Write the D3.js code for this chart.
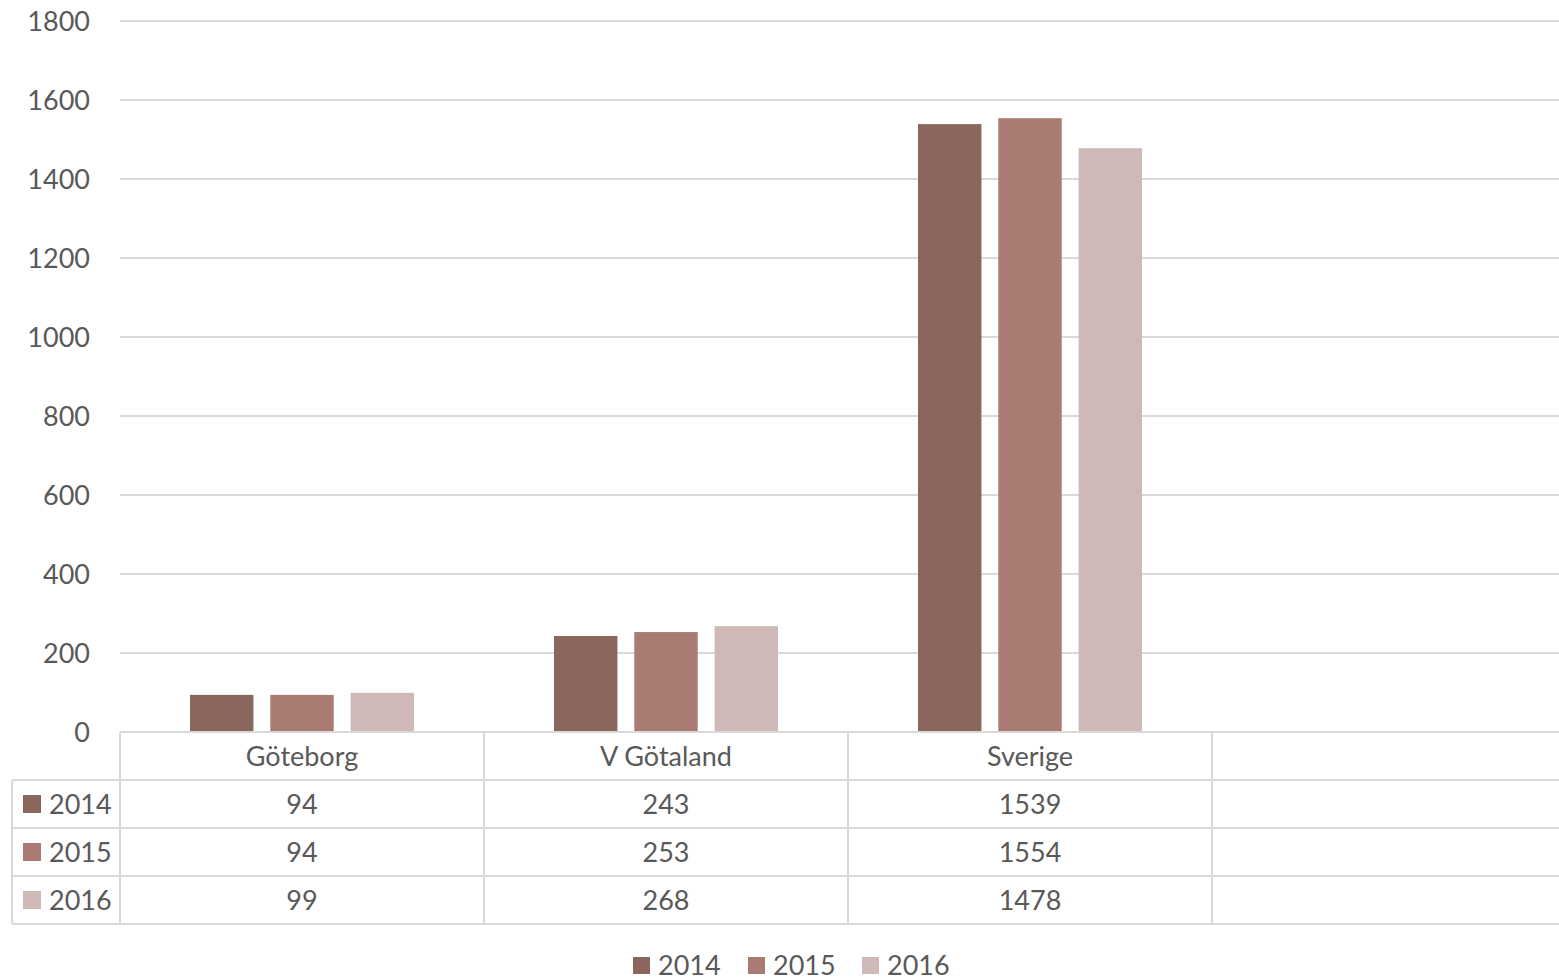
<!DOCTYPE html>
<html>
<head>
<meta charset="utf-8">
<script src="https://cdn.jsdelivr.net/npm/d3@7"></script>
<style>
  body { margin: 0; background: #fff; }
  text { font-family: Lato, "Open Sans", sans-serif; fill: #595959; }
</style>
</head>
<body>
<svg width="1559" height="977"></svg>
<script>
// data
var categories = ['Göteborg', 'V Götaland', 'Sverige', '']
var years = ['2014', '2015', '2016']
var values2014 = [94, 243, 1539]
var values2015 = [94, 253, 1554]
var values2016 = [99, 268, 1478]
var yTicks = [0, 200, 400, 600, 800, 1000, 1200, 1400, 1600, 1800]
var colors = ['#8b665d', '#a97b73', '#ceb9b6']

var series = [values2014, values2015, values2016]

var svg = d3.select('svg')
// note: "top" is reserved on window, so use plot* names
var plotLeft = 120, plotRight = 1576, plotTop = 21, plotBottom = 732
var rowH = 48, tableLeft = 12
var gridColor = '#d9d9d9'

var x0 = d3.scaleBand().domain(categories).range([plotLeft, plotRight])
var x1 = d3.scaleBand().domain(years).range([70, 294]).paddingInner(0.21)
var y = d3.scaleLinear().domain([0, 1800]).range([plotBottom, plotTop])

// gridlines
svg.append('g')
  .selectAll('line')
  .data(yTicks.slice(1))
  .enter().append('line')
  .attr('x1', plotLeft).attr('x2', 1559)
  .attr('y1', d => y(d)).attr('y2', d => y(d))
  .style('stroke', gridColor).style('stroke-width', 2)

// y tick labels
svg.append('g')
  .selectAll('text')
  .data(yTicks)
  .enter().append('text')
  .attr('x', 90)
  .attr('y', d => y(d))
  .attr('dy', '0.36em')
  .attr('text-anchor', 'end')
  .style('font-size', '27px')
  .text(d => d)

// bars
years.forEach(function(yr, i) {
  svg.append('g')
    .selectAll('rect')
    .data(series[i])
    .enter().append('rect')
    .attr('x', (d, j) => x0(categories[j]) + x1(yr))
    .attr('width', x1.bandwidth())
    .attr('y', d => y(d))
    .attr('height', d => y(0) - y(d))
    .style('fill', colors[i])
})

// data table
var table = svg.append('g')
var tableBottom = plotBottom + rowH * 4

// horizontal lines
table.append('line')
  .attr('x1', plotLeft).attr('x2', 1559)
  .attr('y1', plotBottom).attr('y2', plotBottom)
  .style('stroke', gridColor).style('stroke-width', 2)
d3.range(1, 5).forEach(function(r) {
  table.append('line')
    .attr('x1', tableLeft).attr('x2', 1559)
    .attr('y1', plotBottom + r * rowH).attr('y2', plotBottom + r * rowH)
    .style('stroke', gridColor).style('stroke-width', 2)
})

// vertical lines
table.append('line')
  .attr('x1', tableLeft).attr('x2', tableLeft)
  .attr('y1', plotBottom + rowH).attr('y2', tableBottom)
  .style('stroke', gridColor).style('stroke-width', 2)
categories.forEach(function(c) {
  table.append('line')
    .attr('x1', x0(c)).attr('x2', x0(c))
    .attr('y1', plotBottom).attr('y2', tableBottom)
    .style('stroke', gridColor).style('stroke-width', 2)
})

// category labels
table.selectAll('text.cat')
  .data(categories)
  .enter().append('text')
  .attr('class', 'cat')
  .attr('x', d => x0(d) + x0.bandwidth() / 2)
  .attr('y', plotBottom + rowH / 2)
  .attr('dy', '0.36em')
  .attr('text-anchor', 'middle')
  .style('font-size', '27px')
  .text(d => d)

// rows
years.forEach(function(yr, i) {
  var cy = plotBottom + rowH * (i + 1) + rowH / 2
  table.append('rect')
    .attr('x', 23).attr('y', cy - 9)
    .attr('width', 18).attr('height', 18)
    .style('fill', colors[i])
  table.append('text')
    .attr('x', 49).attr('y', cy)
    .attr('dy', '0.36em')
    .style('font-size', '27px')
    .text(yr)
  table.selectAll('text.v' + i)
    .data(series[i])
    .enter().append('text')
    .attr('class', 'v' + i)
    .attr('x', (d, j) => x0(categories[j]) + x0.bandwidth() / 2)
    .attr('y', cy)
    .attr('dy', '0.36em')
    .attr('text-anchor', 'middle')
    .style('font-size', '27px')
    .text(d => d)
})

// bottom legend
var legendX = [633, 748, 862]
var legend = svg.append('g')
years.forEach(function(yr, i) {
  legend.append('rect')
    .attr('x', legendX[i]).attr('y', 957)
    .attr('width', 17).attr('height', 17)
    .style('fill', colors[i])
  legend.append('text')
    .attr('x', legendX[i] + 25).attr('y', 965)
    .attr('dy', '0.36em')
    .style('font-size', '27px')
    .text(yr)
})
</script>
</body>
</html>
